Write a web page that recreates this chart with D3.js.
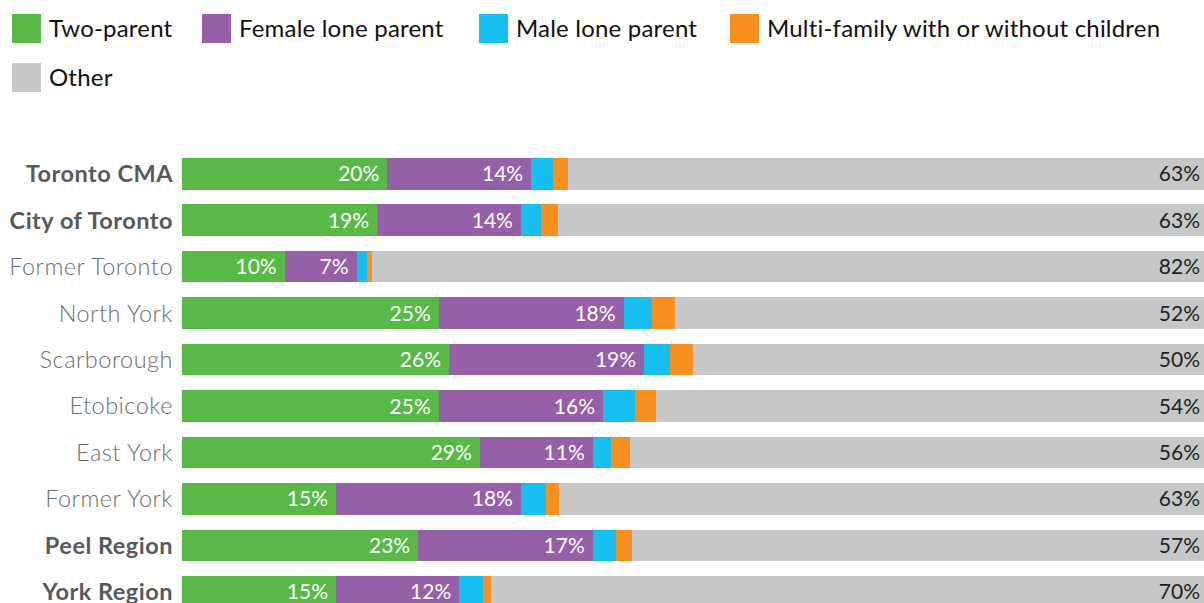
<!DOCTYPE html>
<html>
<head>
<meta charset="utf-8">
<script src="https://cdn.jsdelivr.net/npm/d3@7"></script>
<style>
  html, body { margin: 0; padding: 0; background: #fff; overflow: hidden; }
  svg { display: block; font-family: Lato, "Open Sans", sans-serif; }
</style>
</head>
<body>
<svg id="chart" width="1204" height="603"></svg>
<script>
// Household composition by area (% of households)
const categories = ["Toronto CMA", "City of Toronto", "Former Toronto", "North York", "Scarborough",
                    "Etobicoke", "East York", "Former York", "Peel Region", "York Region"];
const boldCategories = ["Toronto CMA", "City of Toronto", "Peel Region", "York Region"];
const seriesNames = ["Two-parent", "Female lone parent", "Male lone parent",
                     "Multi-family with or without children", "Other"];
const twoParent     = [20, 19, 10, 25, 26, 25, 29, 15, 23, 15];
const femaleLone    = [14, 14,  7, 18, 19, 16, 11, 18, 17, 12];
const maleLone      = [2.1, 2.0, 1.0, 2.8, 2.5, 3.1, 1.8, 2.4, 2.3, 2.3];
const multiFamily   = [1.5, 1.6, 0.5, 2.2, 2.3, 2.1, 1.8, 1.3, 1.5, 0.8];
const other         = [63, 63, 82, 52, 50, 54, 56, 63, 57, 70];
const colors = ["#58b947", "#9560a8", "#17bef0", "#f7901e", "#c6c7c9"];

const rows = categories.map((c, i) => ({
  category: c,
  "Two-parent": twoParent[i],
  "Female lone parent": femaleLone[i],
  "Male lone parent": maleLone[i],
  "Multi-family with or without children": multiFamily[i],
  "Other": other[i]
}));

const svg = d3.select("#chart");

const x = d3.scaleLinear().domain([0, 100]).range([182, 1209]);
const y = d3.scaleBand().domain(categories).range([150.6, 615])
  .paddingInner(0.32).paddingOuter(0.16);
const color = d3.scaleOrdinal().domain(seriesNames).range(colors);

const stacked = d3.stack().keys(seriesNames)(rows);

// Stacked bars
const layers = svg.append("g").selectAll("g").data(stacked).join("g")
  .attr("fill", d => color(d.key));

layers.selectAll("rect").data(d => d).join("rect")
  .attr("x", d => x(d[0]))
  .attr("y", d => y(d.data.category))
  .attr("width", d => x(d[1]) - x(d[0]))
  .attr("height", y.bandwidth())
  .attr("shape-rendering", "crispEdges");

// White value labels inside the first two segments
const fmt = v => d3.format(".0f")(v) + "%";
["Two-parent", "Female lone parent"].forEach(key => {
  const layer = stacked.find(s => s.key === key);
  svg.append("g").selectAll("text").data(layer).join("text")
    .attr("x", d => x(d[1]) - 8)
    .attr("y", d => y(d.data.category) + y.bandwidth() / 2)
    .attr("dy", "0.36em")
    .attr("text-anchor", "end")
    .attr("fill", "#fff")
    .attr("font-size", 21)
    .text(d => fmt(d.data[key]));
});

// "Other" value labels at the right end
svg.append("g").selectAll("text").data(rows).join("text")
  .attr("x", 1200)
  .attr("y", d => y(d.category) + y.bandwidth() / 2)
  .attr("dy", "0.36em")
  .attr("text-anchor", "end")
  .attr("fill", "#231f20")
  .attr("font-size", 21)
  .text(d => fmt(d.Other));

// Category axis labels
const yAxis = d3.axisLeft(y).tickSize(0).tickPadding(0);
const axisG = svg.append("g").attr("transform", "translate(173,0)").call(yAxis);
axisG.select(".domain").remove();
axisG.selectAll("text")
  .attr("font-family", "Lato, 'Open Sans', sans-serif")
  .attr("font-size", 23.5)
  .attr("letter-spacing", 0.5)
  .attr("dy", "0.36em")
  .attr("fill", d => boldCategories.includes(d) ? "#58595b" : "#6d6e71")
  .attr("font-weight", d => boldCategories.includes(d) ? 700 : 300);

// Legend
const legendPos = [[12, 14], [202, 14], [479, 14], [730, 14], [12, 63]];
const legend = svg.append("g").selectAll("g").data(seriesNames).join("g")
  .attr("transform", (d, i) => `translate(${legendPos[i][0]},${legendPos[i][1]})`);
legend.append("rect")
  .attr("width", 29).attr("height", 29)
  .attr("fill", d => color(d));
legend.append("text")
  .attr("x", 37).attr("y", 14.5).attr("dy", "0.36em")
  .attr("font-size", 24)
  .attr("letter-spacing", 0.2)
  .attr("fill", "#111")
  .text(d => d);
</script>
</body>
</html>
